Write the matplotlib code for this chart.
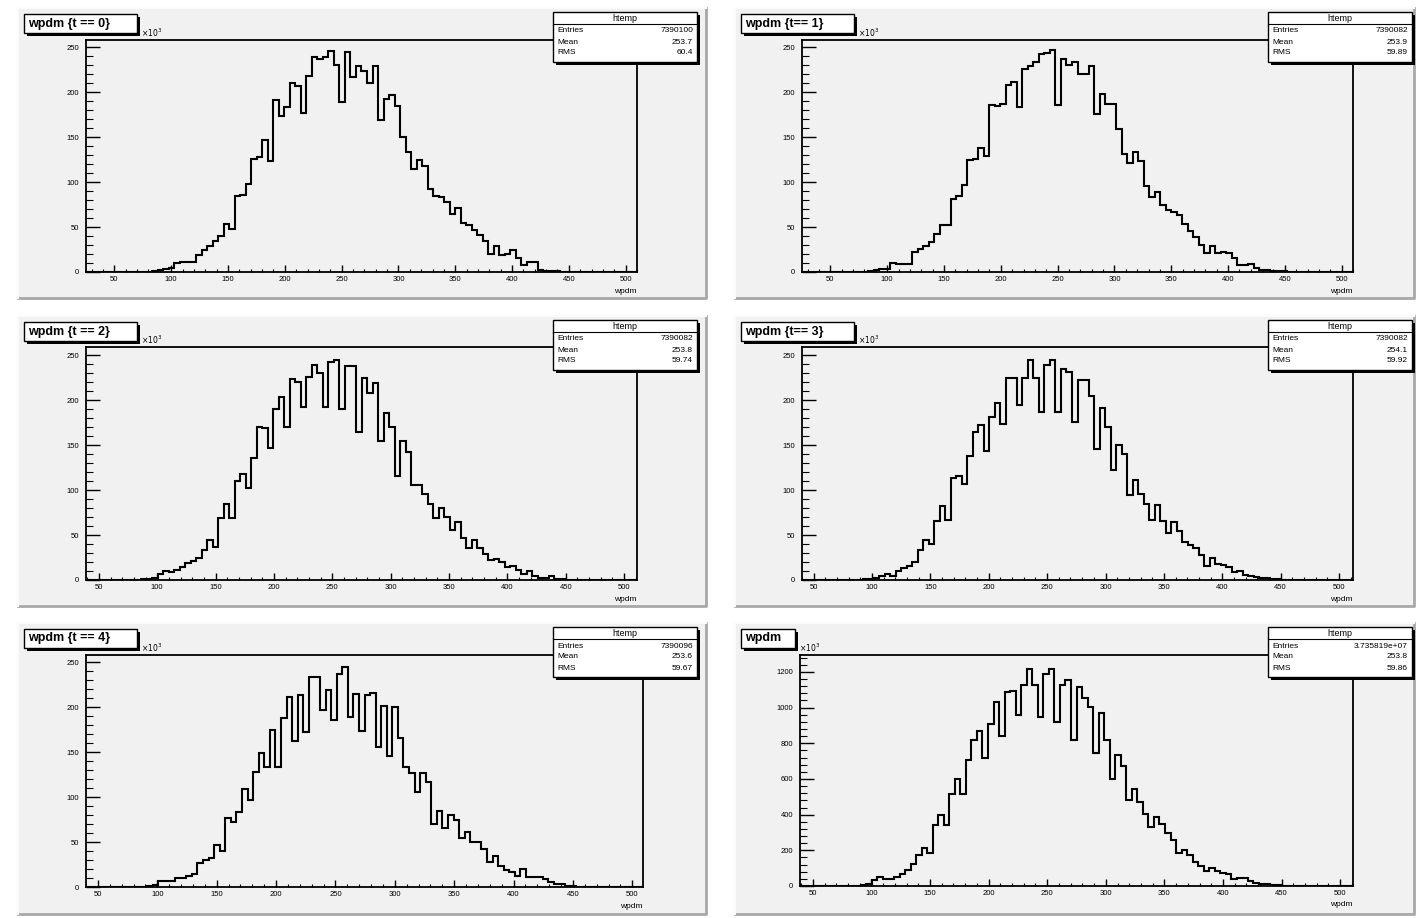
import numpy as np
import matplotlib
matplotlib.use('Agg')
import matplotlib.pyplot as plt
from matplotlib.patches import Rectangle
from matplotlib.ticker import MultipleLocator

plt.rcParams['font.family'] = ['Liberation Sans', 'DejaVu Sans']

W, H = 1416, 918

# histogram contents (x10^3 entries), 100 bins per pad
counts_t0 = [0, 0, 0, 0, 0, 0, 0, 0, 0, 0,
             0.5, 0.5, 1.5, 2, 3, 4, 10, 11, 11, 11,
             19, 24, 29, 35, 40, 53, 48, 84, 86, 98,
             126, 128, 147, 123, 191, 174, 184, 210, 207, 177,
             218, 239, 237, 239, 246, 230, 189, 245, 217, 229,
             223, 210, 229, 169, 192, 197, 185, 150, 134, 114,
             125, 118, 92, 84, 83, 78, 64, 71, 54, 52,
             47, 41, 34, 20, 29, 19, 20, 24, 16, 8,
             11, 11, 2, 1.5, 1, 1, 0.5, 0.5, 0.5, 0.5,
             0.5, 0.5, 0.3, 0.3, 0, 0, 0, 0, 0, 0]
counts_t1 = [0, 0, 0, 0, 0, 0, 0, 0, 0, 0,
             0.5, 0.5, 1.5, 2, 3, 3, 10, 8.5, 8.5, 8.5,
             22, 26, 29, 33, 42, 52, 52, 81, 85, 97,
             125, 126, 138, 129, 186, 185, 187, 208, 211, 183,
             226, 229, 233, 242, 243, 247, 186, 237, 230, 233,
             220, 220, 229, 176, 198, 187, 187, 159, 131, 121,
             134, 123, 96, 83, 89, 74, 69, 67, 63, 53,
             46, 39, 30, 21, 29, 21, 22, 21, 16, 8,
             8, 8.5, 4, 2, 2, 1, 0.8, 0.6, 0.5, 0.4,
             0.3, 0.2, 0.1, 0, 0, 0, 0, 0, 0, 0]
counts_t2 = [0, 0, 0, 0, 0, 0, 0, 0, 0, 0.5,
             1, 1.5, 2, 7, 10, 9, 11, 14, 18.5, 21,
             25, 33, 44, 37, 69, 84, 69, 110, 118, 102,
             136, 170, 169, 147, 190, 203, 170, 223, 220, 192,
             226, 239, 230, 192, 242, 244, 190, 238, 238, 165,
             225, 208, 219, 154, 186, 170, 116, 155, 142, 106,
             106, 96, 85, 69, 80, 70, 56, 65, 47, 36,
             44, 36, 29, 22, 23, 20, 14, 16, 11, 7,
             10, 5, 2.5, 2.5, 4, 1, 1, 0.5, 0.5, 0.3,
             0, 0, 0, 0, 0, 0, 0, 0, 0, 0]
counts_t3 = [0, 0, 0, 0, 0, 0, 0, 0, 0, 0,
             0.5, 1, 1.5, 2, 5, 7, 5, 10, 13, 16,
             20, 33, 44, 40, 66, 82, 67, 113, 116, 107,
             138, 165, 172, 143, 181, 197, 173, 224, 224, 194,
             225, 244, 225, 187, 239, 244, 187, 234, 231, 176,
             222, 222, 205, 146, 191, 170, 122, 150, 140, 94,
             111, 96, 84, 67, 83, 66, 52, 64, 55, 42,
             39, 36, 28, 16, 24, 18, 17, 15, 9, 10,
             6, 4, 3, 2, 2, 1, 1, 0.5, 0.5, 0.3,
             0, 0, 0, 0, 0, 0, 0, 0, 0, 0]
counts_t4 = [0, 0, 0, 0, 0, 0, 0, 0, 0, 0,
             0.5, 1, 2.6, 7, 7, 7, 10, 10, 12.6, 14.5,
             27, 30, 32, 47, 40, 77, 72, 83, 109, 97,
             128, 149, 134, 175, 134, 188, 211, 162, 213, 172,
             234, 234, 197, 219, 186, 237, 245, 189, 215, 174,
             213, 216, 156, 201, 146, 200, 166, 133, 127, 106,
             127, 117, 70, 85, 66, 80, 74, 54, 61, 50,
             50, 42, 27.5, 34, 23, 19, 17, 12.6, 20, 11,
             11, 11, 9, 5.6, 3.3, 3.3, 1, 1, 0.5, 0.5,
             0.3, 0, 0, 0, 0, 0, 0, 0, 0, 0]
counts_all = [0, 0, 0, 0, 0, 0, 0, 0, 0, 0,
              2, 4, 9, 33, 48, 37, 37, 52, 67, 89,
              122, 172, 215, 187, 344, 398, 344, 515, 602, 515,
              706, 820, 870, 715, 907, 1033, 839, 1085, 1094, 959,
              1126, 1219, 1126, 950, 1187, 1219, 919, 1126, 1154, 820,
              1117, 1056, 1006, 746, 969, 820, 598, 737, 672, 481,
              546, 469, 404, 333, 389, 348, 296, 259, 185, 204,
              176, 135, 111, 85, 102, 83, 74, 67, 37, 46,
              43, 28, 15, 9, 9, 4, 4, 2, 2, 1,
              0, 0, 0, 0, 0, 0, 0, 0, 0, 0]

titles = ['wpdm {t == 0}', 'wpdm {t== 1}', 'wpdm {t == 2}',
          'wpdm {t== 3}', 'wpdm {t == 4}', 'wpdm']
entries = ['7390100', '7390082', '7390082', '7390082', '7390096', '3.735819e+07']
means = ['253.7', '253.9', '253.8', '254.1', '253.6', '253.8']
rms = ['60.4', '59.89', '59.74', '59.92', '59.67', '59.86']
x_ranges = [(25, 510), (25, 510), (39, 511), (40, 512), (40, 509), (39, 511)]
y_tops = [258, 258, 259, 259, 258, 1295]
y_major = [50, 50, 50, 50, 50, 200]
y_minor = [10, 10, 10, 10, 10, 40]
all_counts = [counts_t0, counts_t1, counts_t2, counts_t3, counts_t4, counts_all]

# layout in pixels (x0, y0, x1, y1)
pads = [(18, 8, 706, 298), (735, 8, 1414, 298),
        (18, 316, 706, 606), (735, 316, 1414, 606),
        (18, 623, 706, 914), (735, 623, 1414, 914)]
frames = [(86, 40, 637, 272), (802, 40, 1353, 272),
          (86, 347, 637, 580), (802, 347, 1353, 580),
          (86, 655, 643, 887), (800, 655, 1353, 886)]


def fig_rect(x0, y0, x1, y1):
    return [x0 / W, 1 - y1 / H, (x1 - x0) / W, (y1 - y0) / H]


fig = plt.figure(figsize=(W / 100, H / 100), dpi=100)
fig.patch.set_facecolor('white')

bg = fig.add_axes([0, 0, 1, 1], zorder=0)
bg.set_xlim(0, W)
bg.set_ylim(H, 0)
bg.axis('off')

top = fig.add_axes([0, 0, 1, 1], zorder=5)
top.set_xlim(0, W)
top.set_ylim(H, 0)
top.axis('off')
top.patch.set_alpha(0)

pad_col = '#f1f1f1'


def shadow_box(x0, y0, x1, y1, sh=3):
    top.add_patch(Rectangle((x0 + sh, y0 + sh), x1 - x0, y1 - y0,
                            facecolor='black', edgecolor='none'))
    top.add_patch(Rectangle((x0, y0), x1 - x0, y1 - y0,
                            facecolor='white', edgecolor='black', lw=1))


for i in range(6):
    px0, py0, px1, py1 = pads[i]
    bg.add_patch(Rectangle((px0, py0), px1 - px0, py1 - py0,
                           facecolor=pad_col, edgecolor='none'))
    bg.plot([px0, px1, px1], [py1, py1, py0], color='#a8a8a8', lw=2)
    bg.plot([px0, px0, px1], [py1, py0, py0], color='#fbfbfb', lw=1.5)

    fx0, fy0, fx1, fy1 = frames[i]
    ax = fig.add_axes(fig_rect(fx0, fy0, fx1, fy1), zorder=1)
    ax.set_facecolor(pad_col)
    xmin, xmax = x_ranges[i]
    edges = np.linspace(xmin, xmax, len(all_counts[i]) + 1)
    ax.stairs(all_counts[i], edges, color='black', lw=1.5)
    ax.set_xlim(xmin, xmax)
    ax.set_ylim(0, y_tops[i])

    ax.xaxis.set_major_locator(MultipleLocator(50))
    ax.xaxis.set_minor_locator(MultipleLocator(10))
    ax.yaxis.set_major_locator(MultipleLocator(y_major[i]))
    ax.yaxis.set_minor_locator(MultipleLocator(y_minor[i]))
    ax.tick_params(axis='x', which='major', direction='in', length=5, width=1,
                   labelsize=5.5, pad=3)
    ax.tick_params(axis='x', which='minor', direction='in', length=2.5, width=0.8)
    ax.tick_params(axis='y', which='major', direction='in', length=10, width=1,
                   labelsize=5.5, pad=5)
    ax.tick_params(axis='y', which='minor', direction='in', length=5, width=0.8)
    for s in ax.spines.values():
        s.set_linewidth(1.3)

    ax.text(1.0, -0.082, 'wpdm', transform=ax.transAxes, ha='right', va='center',
            fontsize=6)

    # title box
    tw = 113 if i < 5 else 54
    tx0 = px0 + 6
    ty0 = py0 + 6
    shadow_box(tx0, ty0, tx0 + tw, ty0 + 19)
    top.text(tx0 + 4, ty0 + 9.5, titles[i], ha='left', va='center',
             fontsize=9, fontweight='bold')

    # axis exponent, just beside the title box
    top.text(tx0 + tw + 4, fy0 - 1, r'$\times10^{3}$', ha='left', va='bottom',
             fontsize=5.5)

    # stats box
    sx1 = px1 - 9 if i % 2 == 0 else px1 - 2
    sx0 = sx1 - 144
    sy0 = py0 + 4
    shadow_box(sx0, sy0, sx1, sy0 + 50)
    top.plot([sx0, sx1], [sy0 + 12, sy0 + 12], color='black', lw=0.8)
    top.text((sx0 + sx1) / 2, sy0 + 6.5, 'htemp', ha='center', va='center',
             fontsize=6.5)
    for k, (lab, val) in enumerate(zip(['Entries', 'Mean', 'RMS'],
                                       [entries[i], means[i], rms[i]])):
        yy = sy0 + 19 + 11 * k
        top.text(sx0 + 4, yy, lab, ha='left', va='center', fontsize=6)
        top.text(sx1 - 4, yy, val, ha='right', va='center', fontsize=6)

fig.savefig('out.png', dpi=100)
